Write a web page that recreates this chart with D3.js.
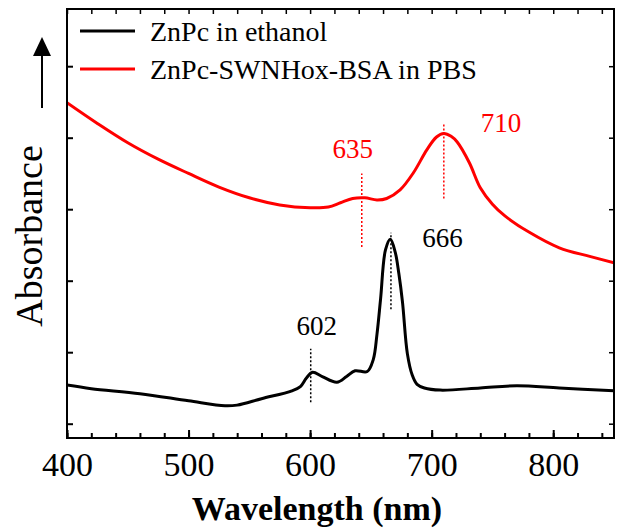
<!DOCTYPE html>
<html>
<head>
<meta charset="utf-8">
<script src="https://d3js.org/d3.v7.min.js"></script>
<style>
  body { margin: 0; background: #fff; }
  text { font-family: "Liberation Serif", "Times New Roman", serif; }
</style>
</head>
<body>
<svg id="svg1" width="619" height="529"></svg>
<script>
// spectra (absorbance in arbitrary units)
const ethWave = [400, 420, 460, 500, 530, 540, 560, 585, 592, 597, 602, 610, 622, 630, 637, 647, 652, 655, 658, 662, 666, 670, 673, 676, 680, 684, 688, 694, 707, 740, 770, 805, 850];
const ethAbs  = [0.54, 0.49, 0.42, 0.32, 0.25, 0.26, 0.35, 0.46, 0.52, 0.64, 0.72, 0.66, 0.58, 0.66, 0.74, 0.73, 0.90, 1.25, 1.75, 2.43, 2.58, 2.40, 2.10, 1.70, 0.98, 0.68, 0.55, 0.50, 0.47, 0.50, 0.53, 0.50, 0.46];

const pbsWave = [400, 425, 450, 475, 500, 525, 550, 575, 600, 615, 625, 635, 645, 655, 663, 674, 685, 696, 704, 710, 716, 721, 731, 740, 750, 760, 780, 805, 830, 850];
const pbsAbs  = [4.49, 4.20, 3.93, 3.70, 3.50, 3.31, 3.16, 3.06, 3.02, 3.03, 3.09, 3.15, 3.16, 3.13, 3.15, 3.27, 3.51, 3.83, 4.01, 4.06, 4.02, 3.94, 3.65, 3.30, 3.07, 2.91, 2.68, 2.46, 2.34, 2.25];

const seriesNames = ["ZnPc in ethanol", "ZnPc-SWNHox-BSA in PBS"];
const xTicks = [400, 500, 600, 700, 800];
const yTicks = [0, 1, 2, 3, 4, 5];

// peak markers: dotted line at w from y0 to y1, label at (lx, ly)
const peakLines = [
    {w: 600.5, y0: 0.3, y1: 1.05, label: "602", lx: 605.5, ly: 1.24, color: "black"},
    {w: 666.5, y0: 1.60, y1: 2.67, label: "666", lx: 709, ly: 2.47, color: "black"},
    {w: 642.5, y0: 2.47, y1: 3.5, label: "635", lx: 635, ly: 3.72, color: "red"},
    {w: 710, y0: 3.15, y1: 4.2, label: "710", lx: 757, ly: 4.08, color: "red"}
];

const pLeft = 67, pRight = 614, pTop = 9, pBottom = 438;
var x = d3.scaleLinear().domain([400, 850]).range([pLeft, pRight]);
var y = d3.scaleLinear().domain([-0.2, 5.8]).range([pBottom, pTop]);

var svg = d3.select('#svg1');

var line = d3.line()
    .x(function(d) { return x(d[0]) })
    .y(function(d) { return y(d[1]) })
    .curve(d3.curveCatmullRom.alpha(0.5));

svg.append('clipPath').attr('id', 'plotclip')
    .append('rect').attr('x', pLeft).attr('y', pTop).attr('width', pRight - pLeft).attr('height', pBottom - pTop);

// curves
svg.append('path')
    .attr('d', line(d3.zip(pbsWave, pbsAbs)))
    .attr('fill', 'none').attr('stroke', '#ff0000').attr('stroke-width', 3)
    .attr('clip-path', 'url(#plotclip)');

svg.append('path')
    .attr('d', line(d3.zip(ethWave, ethAbs)))
    .attr('fill', 'none').attr('stroke', 'black').attr('stroke-width', 3)
    .attr('clip-path', 'url(#plotclip)');

// dotted peak lines + labels
svg.append('g').selectAll('line').data(peakLines).enter().append('line')
    .attr('x1', function(d) { return x(d.w) })
    .attr('x2', function(d) { return x(d.w) })
    .attr('y1', function(d) { return y(d.y0) })
    .attr('y2', function(d) { return y(d.y1) })
    .attr('stroke', function(d) { return d.color })
    .attr('stroke-width', 1.5)
    .attr('stroke-dasharray', '2,2');

svg.append('g').selectAll('text').data(peakLines).enter().append('text')
    .attr('x', function(d) { return x(d.lx) })
    .attr('y', function(d) { return y(d.ly) })
    .attr('text-anchor', 'middle')
    .attr('font-size', 27)
    .attr('fill', function(d) { return d.color })
    .text(function(d) { return d.label });

// axes, ticks inward on all four sides
var minor = d3.range(400, 850, 20);
svg.append('g').attr('transform', 'translate(0,' + pBottom + ')')
    .call(d3.axisBottom(x).tickValues(minor).tickSize(-5).tickFormat(''))
    .call(function(g) { g.select('.domain').remove() })
    .selectAll('line').attr('stroke-width', 2);
svg.append('g').attr('transform', 'translate(0,' + pBottom + ')')
    .call(d3.axisBottom(x).tickValues(xTicks).tickSize(-8).tickPadding(14).tickFormat(d3.format('d')))
    .call(function(g) { g.select('.domain').remove() })
    .call(function(g) { g.selectAll('line').attr('stroke-width', 2) })
    .selectAll('text').attr('font-size', 34);
svg.append('g').attr('transform', 'translate(0,' + pTop + ')')
    .call(d3.axisTop(x).tickValues(minor).tickSize(-5).tickFormat(''))
    .call(function(g) { g.select('.domain').remove() })
    .selectAll('line').attr('stroke-width', 1.5);
svg.append('g').attr('transform', 'translate(' + pLeft + ',0)')
    .call(d3.axisLeft(y).tickValues(yTicks).tickSize(-6).tickFormat(''))
    .call(function(g) { g.select('.domain').remove() })
    .selectAll('line').attr('stroke-width', 2);
svg.append('g').attr('transform', 'translate(' + pRight + ',0)')
    .call(d3.axisRight(y).tickValues(yTicks).tickSize(-5).tickFormat(''))
    .call(function(g) { g.select('.domain').remove() })
    .selectAll('line').attr('stroke-width', 1.5);

svg.append('rect')
    .attr('x', pLeft).attr('y', pTop).attr('width', pRight - pLeft).attr('height', pBottom - pTop)
    .attr('fill', 'none').attr('stroke', 'black').attr('stroke-width', 2);

// axis titles
svg.append('text')
    .attr('x', 317).attr('y', 520)
    .attr('text-anchor', 'middle').attr('font-size', 34).attr('font-weight', 'bold')
    .text('Wavelength (nm)');

svg.append('text')
    .attr('transform', 'translate(42,236) rotate(-90)')
    .attr('text-anchor', 'middle').attr('font-size', 38)
    .text('Absorbance');

// arrow next to the y title
svg.append('line').attr('x1', 42).attr('x2', 42).attr('y1', 108).attr('y2', 52)
    .attr('stroke', 'black').attr('stroke-width', 2);
svg.append('path').attr('d', 'M33,56 L42,37 L51,56 Z').attr('fill', 'black');

// legend
var colors = ['black', '#ff0000'];
var legend = svg.append('g').selectAll('g').data(seriesNames).enter().append('g')
    .attr('transform', function(d, i) { return 'translate(80,' + (31 + i * 38) + ')' });
legend.append('line').attr('x1', 0).attr('x2', 55).attr('y1', 0).attr('y2', 0)
    .attr('stroke', function(d, i) { return colors[i] }).attr('stroke-width', 3);
legend.append('text').attr('x', 70).attr('y', 10).attr('font-size', 28)
    .text(function(d) { return d });
</script>
</body>
</html>
